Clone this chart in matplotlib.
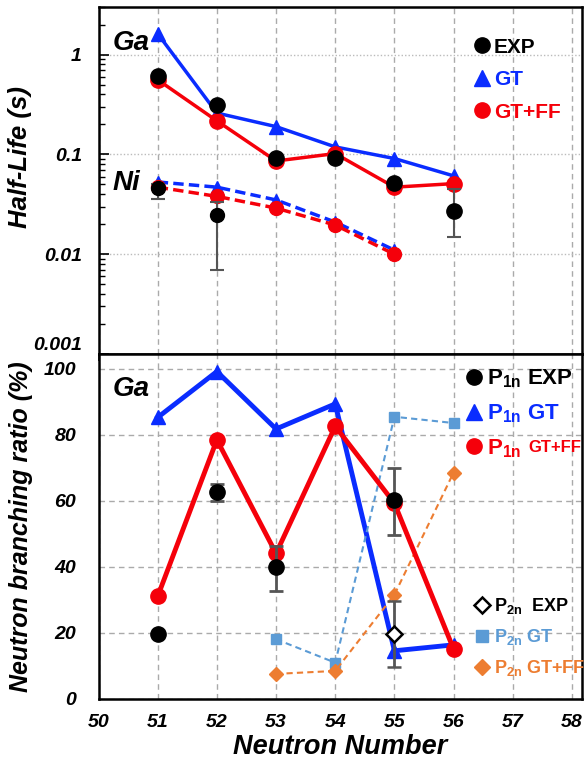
import matplotlib
matplotlib.use("Agg")
import matplotlib.pyplot as plt
from matplotlib.lines import Line2D

plt.rcParams["font.family"] = ["Liberation Sans", "DejaVu Sans"]
plt.rcParams["mathtext.fontset"] = "custom"
plt.rcParams["mathtext.rm"] = "Liberation Sans"
plt.rcParams["mathtext.bf"] = "Liberation Sans:bold"
plt.rcParams["mathtext.it"] = "Liberation Sans:italic"

# ---- data ----
N = [51, 52, 53, 54, 55, 56]
N_ni = [51, 52, 53, 54, 55]

ga_exp = [0.61, 0.31, 0.093, 0.092, 0.052, 0.027]
ga_exp_lo = [0, 0, 0, 0, 0, 0.012]
ga_exp_hi = [0, 0, 0, 0, 0, 0.018]
ga_gt = [1.62, 0.26, 0.19, 0.119, 0.091, 0.061]
ga_gtff = [0.56, 0.217, 0.086, 0.102, 0.047, 0.051]

ni_exp_N = [51, 52]
ni_exp = [0.046, 0.025]
ni_exp_lo = [0.010, 0.018]
ni_exp_hi = [0.004, 0.008]
ni_gt = [0.053, 0.047, 0.035, 0.021, 0.011]
ni_gtff = [0.047, 0.038, 0.029, 0.0196, 0.010]

p1n_exp_N = [51, 52, 53, 55]
p1n_exp = [19.7, 62.7, 40.0, 60.2]
p1n_exp_lo = [0, 2.7, 7.4, 10.4]
p1n_exp_hi = [0, 2.3, 6.3, 9.8]
p1n_gt = [85.3, 99.2, 81.8, 89.4, 14.6, 16.4]
p1n_gtff = [31.1, 78.5, 44.1, 82.6, 59.3, 15.1]

p2n_exp_N = [55]
p2n_exp = [19.8]
p2n_exp_err = [10.0]
p2n_N = [53, 54, 55, 56]
p2n_gt = [18.1, 11.0, 85.5, 83.6]
p2n_gtff = [7.6, 8.5, 31.6, 68.6]

BLUE = "#0a2cff"
RED = "#f5000a"
LBLUE = "#5b9bd5"
ORANGE = "#ed7d31"
GREY = "#555555"

fig = plt.figure(figsize=(5.84, 7.64), dpi=100)
ax1 = fig.add_axes([0.1687, 0.5366, 0.8279, 0.4542])
ax2 = fig.add_axes([0.1687, 0.0851, 0.8279, 0.4515])

xticks = list(range(50, 59))

# ---- top: half-lives ----
ax1.set_yscale("log")
ax1.set_xlim(50, 58.17)
ax1.set_ylim(0.001, 3.0)
ax1.set_xticks(xticks)
ax1.tick_params(axis="x", direction="out", length=5, width=1.2, labelbottom=False)
ax1.tick_params(axis="y", which="major", direction="in", length=7, width=1.2, pad=12)
ax1.tick_params(axis="y", which="minor", direction="in", length=4, width=1.0)
ax1.set_yticks([0.001, 0.01, 0.1, 1])
ax1.set_yticklabels(["0.001", "0.01", "0.1", "1"])
ax1.grid(axis="x", color="#aaaaaa", ls=(0, (4, 3)), lw=1.0)
ax1.grid(axis="y", which="major", color="#bbbbbb", ls=(0, (1, 1.5)), lw=1.0)
ax1.set_axisbelow(True)

ax1.plot(N, ga_gt, color=BLUE, lw=2.5, marker="^", ms=10, zorder=3)
ax1.plot(N, ga_gtff, color=RED, lw=2.5, marker="o", ms=11, zorder=4)
ax1.plot(N_ni, ni_gt, color=BLUE, lw=2.5, ls=(0, (3, 1.5)), marker="^", ms=9, zorder=3)
ax1.plot(N_ni, ni_gtff, color=RED, lw=2.5, ls=(0, (3, 1.5)), marker="o", ms=10, zorder=4)
ax1.errorbar(N, ga_exp, yerr=[ga_exp_lo, ga_exp_hi], fmt="o", color="black", ms=11,
             ecolor=GREY, elinewidth=1.5, capsize=5, capthick=1.5, zorder=5)
ax1.errorbar(ni_exp_N, ni_exp, yerr=[ni_exp_lo, ni_exp_hi], fmt="o", color="black", ms=10,
             ecolor=GREY, elinewidth=1.5, capsize=5, capthick=1.5, zorder=5)

ax1.text(50.24, 1.30, "Ga", fontsize=20, fontweight="bold", style="italic", va="center")
ax1.text(50.24, 0.052, "Ni", fontsize=20, fontweight="bold", style="italic", va="center")
ax1.set_ylabel("Half-Life (s)", fontsize=18.5, fontweight="bold", style="italic")
ax1.yaxis.set_label_coords(-0.1375, 0.568)

h_top = [Line2D([], [], ls="", marker="o", color="black", ms=11),
         Line2D([], [], ls="", marker="^", color=BLUE, ms=11),
         Line2D([], [], ls="", marker="o", color=RED, ms=11)]
ax1.legend(h_top, ["EXP", "GT", "GT+FF"], loc="upper right", bbox_to_anchor=(0.995, 0.966),
           frameon=False, handlelength=0.6, handletextpad=0.3, labelspacing=0.65,
           labelcolor=["black", BLUE, RED], prop={"size": 15, "weight": "bold"})

# ---- bottom: branching ratios ----
ax2.set_xlim(50, 58.17)
ax2.set_ylim(0, 104.5)
ax2.set_xticks(xticks)
ax2.set_yticks([0, 20, 40, 60, 80, 100])
ax2.tick_params(axis="y", length=0, pad=16)
ax2.tick_params(axis="x", length=0, pad=11)
ax2.grid(color="#aaaaaa", ls=(0, (4, 3)), lw=1.0)
ax2.set_axisbelow(True)

ax2.plot(N, p1n_gt, color=BLUE, lw=3.5, marker="^", ms=10, zorder=3)
ax2.plot(N, p1n_gtff, color=RED, lw=3.5, marker="o", ms=11, zorder=4)
ax2.plot(p2n_N, p2n_gt, color=LBLUE, lw=1.5, ls=(0, (3, 2)), marker="s", ms=7, zorder=3)
ax2.plot(p2n_N, p2n_gtff, color=ORANGE, lw=1.5, ls=(0, (3, 2)), marker="D", ms=7, zorder=3)
ax2.errorbar(p1n_exp_N, p1n_exp, yerr=[p1n_exp_lo, p1n_exp_hi], fmt="o", color="black", ms=11,
             ecolor=GREY, elinewidth=2, capsize=5, capthick=2, zorder=5)
ax2.errorbar(p2n_exp_N, p2n_exp, yerr=p2n_exp_err, fmt="D", mfc="white", mec="black", mew=1.8,
             ms=8, ecolor=GREY, elinewidth=2, capsize=5, capthick=2, zorder=6)

ax2.text(50.24, 94, "Ga", fontsize=20, fontweight="bold", style="italic", va="center")
ax2.set_ylabel("Neutron branching ratio (%)", fontsize=18, fontweight="bold", style="italic")
ax2.yaxis.set_label_coords(-0.1355, 0.5)
ax2.set_xlabel("Neutron Number", fontsize=19.5, fontweight="bold", style="italic", labelpad=2)

h1 = [Line2D([], [], ls="", marker="o", color="black", ms=11),
      Line2D([], [], ls="", marker="^", color=BLUE, ms=11),
      Line2D([], [], ls="", marker="o", color=RED, ms=11)]
lab1 = [r"P$_{\mathbf{1n}}$ EXP", r"P$_{\mathbf{1n}}$ GT", r"P$_{\mathbf{1n}}$"]
leg1 = ax2.legend(h1, lab1, loc="upper left", bbox_to_anchor=(0.762, 0.96), frameon=False,
                  borderaxespad=0, borderpad=0, handlelength=0.6, handletextpad=0.3,
                  labelspacing=0.54, labelcolor=["black", BLUE, RED],
                  prop={"size": 16, "weight": "bold"})
ax2.add_artist(leg1)
ax2.annotate("GT+FF", xy=(1, 0.55), xycoords=leg1.get_texts()[2], xytext=(5, 0),
             textcoords="offset points", va="center", ha="left", color=RED,
             fontsize=12, fontweight="bold", annotation_clip=False, zorder=10)

h2 = [Line2D([], [], ls="", marker="D", mfc="white", mec="black", mew=1.8, ms=8),
      Line2D([], [], ls="", marker="s", color=LBLUE, ms=8),
      Line2D([], [], ls="", marker="D", color=ORANGE, ms=8)]
lab2 = [r"P$_{\mathbf{2n}}$  EXP", r"P$_{\mathbf{2n}}$ GT", r"P$_{\mathbf{2n}}$ GT+FF"]
ax2.legend(h2, lab2, loc="upper left", bbox_to_anchor=(0.781, 0.298), frameon=False,
           borderaxespad=0, borderpad=0, handlelength=0.6, handletextpad=0.4,
           labelspacing=0.6, labelcolor=["black", LBLUE, ORANGE],
           prop={"size": 13, "weight": "bold"})

for ax in (ax1, ax2):
    for s in ax.spines.values():
        s.set_linewidth(1.8)
    for lbl in ax.get_xticklabels() + ax.get_yticklabels():
        lbl.set_fontweight("bold")
        lbl.set_fontstyle("italic")
        lbl.set_fontsize(14)

ax1.get_yticklabels()[0].set_va("bottom")

fig.savefig("out.png", dpi=100)
